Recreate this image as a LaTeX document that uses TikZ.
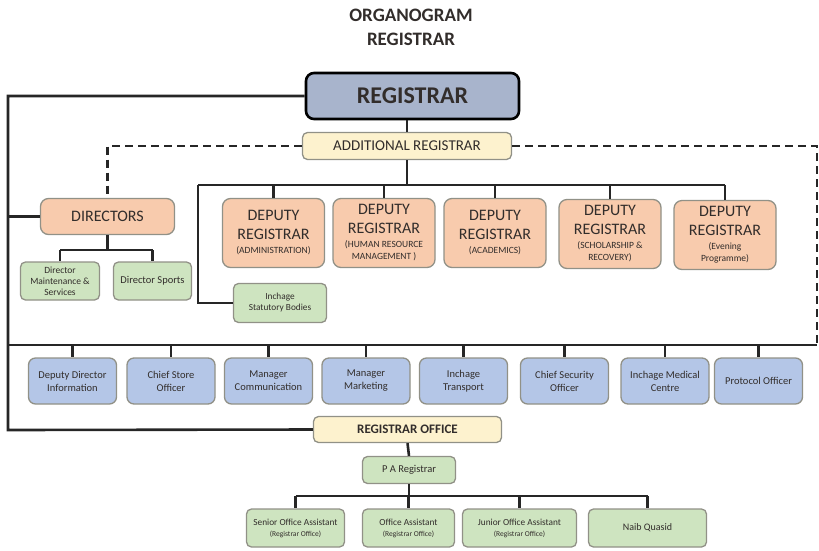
\documentclass[tikz,border=0pt]{standalone}
\usepackage{fontspec}
\setmainfont{Carlito}
\usetikzlibrary{positioning}
\usetikzlibrary{calc}
\definecolor{regblue}{RGB}{168,180,204}
\definecolor{addlyellow}{RGB}{253,242,206}
\definecolor{deporange}{RGB}{248,203,173}
\definecolor{staffgreen}{RGB}{206,228,192}
\definecolor{serviceblue}{RGB}{180,198,231}
\definecolor{edgegrey}{RGB}{145,145,135}
\definecolor{inkdark}{RGB}{50,45,43}
\newcommand{\deptag}[1]{{\fontsize{9.5}{11}\selectfont #1}}

\begin{document}
\begin{tikzpicture}[x=1pt,y=-1pt,
	orgbox/.style={draw=edgegrey, line width=1.3pt, rounded corners=5pt, align=center, inner sep=1pt, text=inkdark},
	chief/.style={orgbox, draw=black, line width=2.6pt, rounded corners=8pt, fill=regblue, minimum width=213pt, minimum height=46pt, font=\bfseries\fontsize{24}{26}\selectfont},
	addl/.style={orgbox, fill=addlyellow, minimum width=209pt, minimum height=27pt, font=\fontsize{15}{17}\selectfont},
	deputy/.style={orgbox, fill=deporange, rounded corners=8pt, minimum width=102pt, minimum height=69pt, font=\fontsize{16}{19}\selectfont},
	staff/.style={orgbox, fill=staffgreen, minimum height=38pt, font=\fontsize{9.3}{11}\selectfont},
	service/.style={orgbox, fill=serviceblue, rounded corners=7pt, minimum width=88pt, minimum height=46pt, font=\fontsize{10.5}{13}\selectfont},
	link/.style={line width=2.6pt, draw=black!85},
	dashlink/.style={line width=2.8pt, draw=black!85, dash pattern=on 8pt off 5pt}]
	\useasboundingbox (0,0) rectangle (819,550);

	%title
	\node[font=\bfseries\fontsize{19}{22}\selectfont, text=inkdark] (title1) at (411,15) {ORGANOGRAM};
	\node[font=\bfseries\fontsize{19}{22}\selectfont, text=inkdark] (title2) at (411,39) {REGISTRAR};

	%top of the tree
	\node[chief] (reg) at (412.5,96) {REGISTRAR};
	\node[addl] (addreg) at (407,146) {ADDITIONAL REGISTRAR};
	\node[deputy, minimum width=134pt, minimum height=36pt] (dirs) at (107.5,216.5) {DIRECTORS};

	%deputy registrars
	\node[deputy] (dep1) at (273.5,233) {DEPUTY\\REGISTRAR\\[-5pt]\deptag{(ADMINISTRATION)}};
	\node[deputy] (dep2) at (384,233) {DEPUTY\\REGISTRAR\\[-5pt]\deptag{(HUMAN RESOURCE}\\[-7pt]\deptag{MANAGEMENT )}};
	\node[deputy] (dep3) at (495,233) {DEPUTY\\REGISTRAR\\[-5pt]\deptag{(ACADEMICS)}};
	\node[deputy] (dep4) at (610,234) {DEPUTY\\REGISTRAR\\[-5pt]\deptag{(SCHOLARSHIP \&}\\[-7pt]\deptag{RECOVERY)}};
	\node[deputy] (dep5) at (725,235) {DEPUTY\\REGISTRAR\\[-5pt]\deptag{(Evening}\\[-7pt]\deptag{Programme)}};

	%green boxes under directors
	\node[staff, minimum width=79pt, font=\fontsize{9.5}{11}\selectfont] (dirmaint) at (60,281) {Director\\Maintenance \&\\Services};
	\node[staff, minimum width=78pt, font=\fontsize{10.5}{12}\selectfont] (dirsport) at (152.5,281) {Director Sports};
	\node[staff, minimum width=93pt, minimum height=39pt] (statbod) at (280,303) {Inchage\\Statutory Bodies};

	%blue row
	\foreach \x/\n/\t in {72.5/b1/{Deputy Director\\Information},171/b2/{Chief Store\\Officer},268.5/b3/{Manager\\Communication},366/b4/{Manager\\Marketing},463.5/b5/{Inchage\\Transport},564.5/b6/{Chief Security\\Officer},665/b7/{Inchage Medical\\Centre},758.5/b8/{Protocol Officer}}
		\node[service] (\n) at (\x,381) {\t};

	%registrar office
	\node[addl, minimum width=188pt, minimum height=26pt, font=\bfseries\fontsize{13}{15}\selectfont] (regoff) at (407.5,429.5) {REGISTRAR OFFICE};
	\node[staff, minimum width=93pt, minimum height=27pt, font=\fontsize{10.5}{12}\selectfont] (pareg) at (409,470) {P A Registrar};
	\node[staff, minimum width=98pt] (sa1) at (295.5,528) {Senior Office Assistant\\{\fontsize{7.5}{9}\selectfont (Registrar Office)}};
	\node[staff, minimum width=92pt] (sa2) at (408.5,528) {Office Assistant\\{\fontsize{7.5}{9}\selectfont (Registrar Office)}};
	\node[staff, minimum width=114pt] (sa3) at (519.5,528) {Junior Office Assistant\\{\fontsize{7.5}{9}\selectfont (Registrar Office)}};
	\node[staff, minimum width=118pt, font=\fontsize{10}{12}\selectfont] (sa4) at (647.5,528) {Naib Quasid};

	%left spine and bus lines
	\coordinate (spinetop) at (8,96);
	\coordinate (spinebot) at (8,430);
	\coordinate (busleft) at (8,345);
	\coordinate (busright) at (817,345);
	\coordinate (depbus) at (198,185);
	\coordinate (dirbus) at (0,250);
	\coordinate (offbus) at (0,496);

	\draw[link] (reg.west) -- (spinetop) -- (spinebot) -- (regoff.west);
	\draw[link] (dirs.west) -- (dirs.west -| spinetop);
	\draw[link] (busleft) -- (busright);
	\foreach \n in {b1,b2,b3,b4,b5,b6,b7,b8}
		\draw[link] (\n.north |- busleft) -- (\n.north);
	\draw[link] (reg.south -| addreg.north) -- (addreg.north);

	%dashed links
	\draw[dashlink] (addreg.west) -| (dirs.north);
	\draw[dashlink] (addreg.east) -| (busright);

	%deputies
	\draw[link] (addreg.south) -- (addreg.south |- depbus);
	\draw[link] (depbus) -- (dep5.north |- depbus);
	\foreach \n in {dep1,dep2,dep3,dep4,dep5}
		\draw[link] (\n.north |- depbus) -- (\n.north);
	\draw[link] (depbus) |- (statbod.west);

	%directors
	\draw[link] (dirs.south) -- (dirs.south |- dirbus);
	\draw[link] (dirmaint.north |- dirbus) -- (dirsport.north |- dirbus);
	\draw[link] (dirmaint.north |- dirbus) -- (dirmaint.north);
	\draw[link] (dirsport.north |- dirbus) -- (dirsport.north);

	%registrar office
	\draw[link] (regoff.south) -- (pareg.north);
	\draw[link] (pareg.south) -- (pareg.south |- offbus);
	\draw[link] (sa1.north |- offbus) -- (sa4.north |- offbus);
	\foreach \n in {sa1,sa2,sa3,sa4}
		\draw[link] (\n.north |- offbus) -- (\n.north);
\end{tikzpicture}
\end{document}
